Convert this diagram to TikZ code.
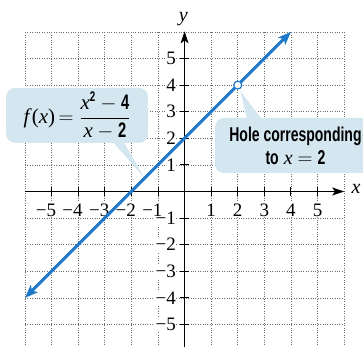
\documentclass[tikz,border=0pt]{standalone}
\usepackage{fontspec}
\setmainfont{Liberation Serif}
\newfontfamily\condb[FakeStretch=0.7]{Liberation Sans}
\newcommand{\cbold}[1]{{\condb\bfseries #1}}
\usetikzlibrary{arrows.meta}
\definecolor{lineblue}{RGB}{30,120,200}
\definecolor{callfill}{RGB}{212,230,240}
\definecolor{gridgray}{RGB}{110,110,110}
\begin{document}
\begin{tikzpicture}[x=26.6pt,y=26.6pt,
  gridline/.style={gridgray, line width=0.6pt, dash pattern=on 0.6pt off 1.8pt},
  axisline/.style={line width=0.9pt, -{Stealth[length=12pt,width=8pt,inset=3pt]}},
  tickline/.style={line width=0.9pt},
  ticklab/.style={font=\fontsize{19}{19}\selectfont, inner sep=0.6pt, fill=white},
  axlab/.style={font=\fontsize{20}{20}\selectfont\itshape, inner sep=0pt},
  callout/.style={fill=callfill, rounded corners=9pt, inner sep=0pt, align=center},
  graphline/.style={lineblue, line width=3pt, {Stealth[length=13pt,width=10pt,inset=3pt]}-{Stealth[length=13pt,width=10pt,inset=3pt]}}
]
\useasboundingbox (-6.94,-5.84) rectangle (6.71,7.20);
% grid
\foreach \i in {-6,...,6} \draw[gridline] (\i,-5.95) -- (\i,6);
\foreach \j in {-5,...,6} \draw[gridline] (-6,\j) -- (6,\j);
% callouts
\node[callout, minimum width=142pt, minimum height=55pt, font=\fontsize{21}{24}\selectfont] (c1) at (-4.04,2.86)
  {\itshape f\/\upshape(\itshape x\/\upshape)\,$=\displaystyle\frac{\mbox{\itshape x}^{\mbox{\fontsize{14}{14}\selectfont\cbold{2}}}-\mbox{\cbold{4}}}{\mbox{\itshape x}-\mbox{\cbold{2}}}$};
\coordinate (p1a) at (-2.73,1.9);
\coordinate (p1b) at (-2.31,1.9);
\coordinate (t1) at (-1.5,0.5);
\fill[callfill] (p1a) -- (t1) -- (p1b) -- cycle;
\node[callout, minimum width=161pt, minimum height=55pt, font=\fontsize{20}{23}\selectfont] (c2) at (4.17,1.73)
  {\cbold{Hole corresponding}\\\cbold{to} \mbox{\itshape x} $=$ \cbold{2}};
\coordinate (p2a) at (2.35,2.7);
\coordinate (p2b) at (2.91,2.7);
\coordinate (t2) at (2.1,3.78);
\fill[callfill] (p2a) -- (t2) -- (p2b) -- cycle;
% axes
\coordinate (xs) at (-6,0);
\coordinate (xe) at (6.0,0);
\coordinate (ys) at (0,-5.95);
\coordinate (ye) at (0,6.02);
\draw[axisline] (xs) -- (xe);
\draw[axisline] (ys) -- (ye);
\foreach \i in {-5,...,-1,1,2,3,4,5} \draw[tickline] (\i,-0.18) -- (\i,0.18);
\foreach \j in {-5,...,-1,1,2,3,4,5} \draw[tickline] (-0.18,\j) -- (0.18,\j);
% tick labels
\foreach \j/\t in {1/1,2/2,3/3,4/4,5/5,-1/−1,-2/−2,-3/−3,-4/−4,-5/−5}
  \node[ticklab, anchor=east] at (-0.3,\j) {\t};
\foreach \i/\t in {-5/−5,-4/−4,-3/−3,-2/−2,-1/−1}
  \node[ticklab, anchor=east] at (\i+0.2,-0.7) {\t};
\foreach \i in {1,...,5}
  \node[ticklab] at (\i,-0.7) {\i};
\node[axlab] (ylab) at (-0.05,6.5) {y};
\node[axlab] (xlab) at (6.45,0.08) {x};
% graph
\coordinate (A) at (-6,-4);
\coordinate (B) at (4,6);
\draw[graphline] (A) -- (B);
\node[circle, draw=lineblue, fill=white, line width=1.2pt, minimum size=8pt, inner sep=0pt] (hole) at (2,4) {};
\end{tikzpicture}
\end{document}
